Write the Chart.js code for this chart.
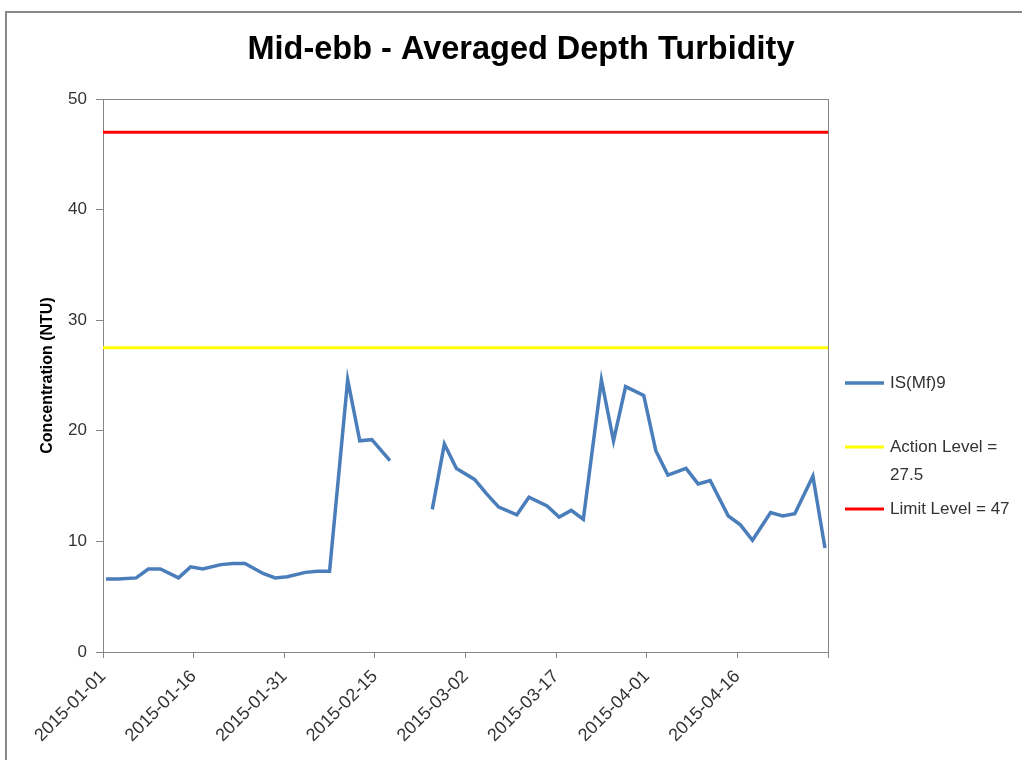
<!DOCTYPE html>
<html>
<head>
<meta charset="utf-8">
<title>Mid-ebb - Averaged Depth Turbidity</title>
<script src="https://cdn.jsdelivr.net/npm/chart.js@4.4.1/dist/chart.umd.min.js"></script>
<style>
  html, body { margin: 0; padding: 0; background: #fff; }
  #wrap { width: 1022px; height: 760px; }
</style>
</head>
<body>
<div id="wrap"><canvas id="turbidityChart" width="1022" height="760"></canvas></div>
<script>
// monitoring station IS(Mf)9, mid-ebb tide, depth-averaged turbidity (NTU)
const chartTitle = 'Mid-ebb - Averaged Depth Turbidity';
const yAxisTitle = 'Concentration (NTU)';
const startDate = '2015-01-01';
const endDay = 120; // 2015-05-01
const tickStep = 15;

const sampleDates = [
    '2015-01-01', '2015-01-03', '2015-01-06', '2015-01-08', '2015-01-10',
    '2015-01-13', '2015-01-15', '2015-01-17', '2015-01-20', '2015-01-22',
    '2015-01-24', '2015-01-27', '2015-01-29', '2015-01-31', '2015-02-03',
    '2015-02-05', '2015-02-07', '2015-02-10', '2015-02-12', '2015-02-14',
    '2015-02-17', '2015-02-19', '2015-02-21', '2015-02-24', '2015-02-26',
    '2015-02-28', '2015-03-03', '2015-03-05', '2015-03-07', '2015-03-10',
    '2015-03-12', '2015-03-15', '2015-03-17', '2015-03-19', '2015-03-21',
    '2015-03-24', '2015-03-26', '2015-03-28', '2015-03-31', '2015-04-02',
    '2015-04-04', '2015-04-07', '2015-04-09', '2015-04-11', '2015-04-14',
    '2015-04-16', '2015-04-18', '2015-04-21', '2015-04-23', '2015-04-25',
    '2015-04-28', '2015-04-30'
];

// null = no survey that day (line is broken there)
const turbidity = [
    6.6, 6.6, 6.7, 7.5, 7.5,
    6.7, 7.7, 7.5, 7.9, 8.0,
    8.0, 7.1, 6.7, 6.8, 7.2,
    7.3, 7.3, 24.6, 19.1, 19.2,
    17.3, null, null, 12.9, 18.8,
    16.6, 15.6, 14.3, 13.1, 12.4,
    14.0, 13.2, 12.2, 12.8, 12.0,
    24.6, 19.1, 24.0, 23.2, 18.2,
    16.0, 16.6, 15.2, 15.5, 12.3,
    11.5, 10.1, 12.6, 12.3, 12.5,
    15.9, 9.4
];

const ACTION_LEVEL = 27.5;
const LIMIT_LEVEL = 47;

const stationName = 'IS(Mf)9';
const actionLabel = 'Action Level = ' + ACTION_LEVEL;
const limitLabel = 'Limit Level = ' + LIMIT_LEVEL;

const DAY_MS = 86400000;
const t0 = Date.parse(startDate);
const dayOf = (d) => (Date.parse(d) - t0) / DAY_MS;
const dateLabel = (day) => new Date(t0 + day * DAY_MS).toISOString().slice(0, 10);

// excel-style date axis: each reading sits in the middle of its day
const stationPoints = sampleDates.map((d, i) => ({ x: dayOf(d) + 0.5, y: turbidity[i] }));
const levelLine = (v) => [{ x: 0, y: v }, { x: endDay, y: v }];

const AXIS_GREY = '#868686';
const TEXT_COLOR = '#333333';

// outer chart frame, plot-area box and the (narrowed) title
const framePlugin = {
    id: 'frame',
    beforeDraw(chart) {
        const ctx = chart.ctx;
        ctx.save();
        ctx.fillStyle = '#fff';
        ctx.fillRect(0, 0, chart.width, chart.height);
        ctx.strokeStyle = '#878787';
        ctx.lineWidth = 2;
        ctx.strokeRect(6, 12, chart.width + 20, chart.height + 20);

        // title squeezed horizontally so it reads like a condensed face
        ctx.font = 'bold 33px "Liberation Sans"';
        ctx.fillStyle = '#000';
        ctx.textAlign = 'center';
        ctx.textBaseline = 'middle';
        const w = ctx.measureText(chartTitle).width;
        const sx = Math.min(1, 547 / w);
        ctx.translate(chart.width / 2 + 10, 50);
        ctx.scale(sx, 1);
        ctx.fillText(chartTitle, 0, 0);
        ctx.restore();
    },
    beforeDatasetsDraw(chart) {
        const { ctx, chartArea: a } = chart;
        ctx.save();
        ctx.strokeStyle = AXIS_GREY;
        ctx.lineWidth = 1;
        ctx.strokeRect(Math.round(a.left) + 0.5, Math.round(a.top) + 0.5,
            Math.round(a.right - a.left), Math.round(a.bottom - a.top));
        ctx.restore();
    }
};

// legend on the right, wrapping long labels like the spreadsheet does
const sideLegend = {
    id: 'sideLegend',
    afterDraw(chart, args, opts) {
        const ctx = chart.ctx;
        ctx.save();
        ctx.font = opts.font;
        ctx.textBaseline = 'middle';
        chart.data.datasets.forEach((ds, i) => {
            const y = opts.rows[i];
            ctx.strokeStyle = ds.borderColor;
            ctx.lineWidth = ds.borderWidth;
            ctx.beginPath();
            ctx.moveTo(opts.x, y);
            ctx.lineTo(opts.x + opts.sample, y);
            ctx.stroke();

            const words = ds.label.split(' ');
            const lines = [];
            let cur = '';
            words.forEach(w => {
                const test = cur ? cur + ' ' + w : w;
                if (cur && ctx.measureText(test).width > opts.maxWidth) {
                    lines.push(cur);
                    cur = w;
                } else {
                    cur = test;
                }
            });
            lines.push(cur);
            ctx.fillStyle = TEXT_COLOR;
            lines.forEach((ln, k) => {
                ctx.fillText(ln, opts.x + opts.sample + 6, y + k * opts.lineHeight);
            });
        });
        ctx.restore();
    }
};

const ctx = document.getElementById('turbidityChart').getContext('2d');
const turbidityChart = new Chart(ctx, {
    type: 'line',
    data: {
        datasets: [
            {
                label: stationName,
                data: stationPoints,
                borderColor: '#4A7EBB',
                borderWidth: 3.5,
                pointRadius: 0,
                spanGaps: false,
                tension: 0
            },
            {
                label: actionLabel,
                data: levelLine(ACTION_LEVEL),
                borderColor: '#FFFF00',
                borderWidth: 3,
                pointRadius: 0
            },
            {
                label: limitLabel,
                data: levelLine(LIMIT_LEVEL),
                borderColor: '#FF0000',
                borderWidth: 3,
                pointRadius: 0
            }
        ]
    },
    options: {
        responsive: false,
        animation: false,
        events: [],
        layout: { padding: { left: 0, right: 194, top: 99, bottom: 0 } },
        plugins: {
            legend: { display: false },
            tooltip: { enabled: false },
            title: { display: false },
            sideLegend: {
                x: 845,
                sample: 39,
                rows: [383, 447, 509],
                lineHeight: 28,
                maxWidth: 128,
                font: '17px "Liberation Sans"'
            }
        },
        scales: {
            x: {
                type: 'linear',
                min: 0,
                max: endDay,
                afterFit: (scale) => { scale.height = 108; },
                ticks: {
                    stepSize: tickStep,
                    autoSkip: false,
                    minRotation: 45,
                    maxRotation: 45,
                    padding: 8,
                    color: TEXT_COLOR,
                    font: { family: 'Liberation Sans', size: 18 },
                    callback: (v) => (v >= endDay ? '' : dateLabel(v))
                },
                grid: { drawOnChartArea: false, drawTicks: true, tickLength: 6, color: AXIS_GREY },
                border: { display: true, color: AXIS_GREY }
            },
            y: {
                min: 0,
                max: 50,
                afterFit: (scale) => { scale.width = 103; },
                ticks: {
                    stepSize: 10,
                    padding: 9,
                    color: TEXT_COLOR,
                    font: { family: 'Liberation Sans', size: 17 }
                },
                grid: { drawOnChartArea: false, drawTicks: true, tickLength: 7, color: AXIS_GREY },
                border: { display: true, color: AXIS_GREY },
                title: {
                    display: true,
                    text: yAxisTitle,
                    color: '#000',
                    font: { family: 'Liberation Sans', weight: 'bold', size: 16 },
                    padding: { top: 38, bottom: 0 }
                }
            }
        }
    },
    plugins: [framePlugin, sideLegend]
});
</script>
</body>
</html>
